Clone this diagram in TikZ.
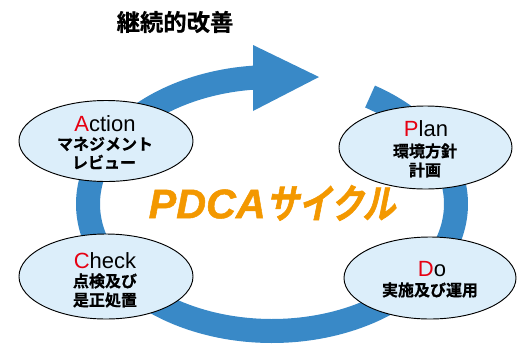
\documentclass[tikz,border=0pt]{standalone}
\usepackage{fontspec}
\setmainfont{Liberation Sans}
\newfontfamily\jpb{Noto Sans CJK JP Bold}[FakeBold=0.6]
\newfontfamily\jpslant{Noto Sans CJK JP Bold}[FakeSlant=0.2,FakeStretch=0.82,FakeBold=1.5]
\newfontfamily\pdcalat{Liberation Sans}[UprightFont={* Bold Italic},FakeBold=1.2]
\usetikzlibrary{shapes.geometric}
\definecolor{ringblue}{RGB}{57,137,199}
\definecolor{ellfill}{RGB}{220,238,250}
\definecolor{accred}{RGB}{230,0,18}
\definecolor{pdcaorange}{RGB}{243,152,0}
\tikzset{
  ring/.style={draw=ringblue,line width=18pt,line cap=butt},
  ell/.style={ellipse,draw=black,line width=0.7pt,fill=ellfill,inner sep=0pt},
  head/.style={inner sep=0pt,font=\fontsize{16.5}{18}\selectfont},
  jplab/.style={inner sep=0pt,font=\jpb\fontsize{12}{14}\selectfont},
}
\begin{document}
\begin{tikzpicture}[x=0.75pt,y=-0.75pt]
\useasboundingbox (0,0) rectangle (526,344);
% ring
\draw[ring] plot[domain=-57.8:264.5,samples=160,smooth] ({272+184*cos(\x)},{204+127*sin(\x)});
\fill[ringblue] (253,45) -- (319,77) -- (253,111) -- cycle;
% title
\node[inner sep=0pt,font=\jpb\fontsize{17.5}{20}\selectfont] (title) at (175,22) {継続的改善};
% ellipses
\node[ell,minimum width=130.5pt,minimum height=60.75pt] (act) at (106,141) {};
\node[ell,minimum width=129.75pt,minimum height=62.25pt] (plan) at (425.5,147.5) {};
\node[ell,minimum width=130.5pt,minimum height=63.75pt] (chk) at (106,276.5) {};
\node[ell,minimum width=129pt,minimum height=61.5pt] (do) at (430,278) {};
% labels
\node[head] (actA) at (105,124) {\textcolor{accred}{A}ction};
\node[jplab] (act1) at (105,144) {マネジメント};
\node[jplab] (act2) at (104,162) {レビュー};
\node[head] (planP) at (426,129) {\textcolor{accred}{P}lan};
\node[jplab] (plan1) at (425,151) {環境方針};
\node[jplab] (plan2) at (425,170) {計画};
\node[head] (chkC) at (105,261) {\textcolor{accred}{C}heck};
\node[jplab] (chk1) at (105,281) {点検及び};
\node[jplab] (chk2) at (105,300) {是正処置};
\node[head] (doD) at (432,269) {\textcolor{accred}{D}o};
\node[jplab] (do1) at (430,290) {実施及び運用};
% centre text
\node[inner sep=0pt,text=pdcaorange] (pdca) at (272,203)
  {{\pdcalat\fontsize{31}{31}\selectfont PDCA}{\jpslant\fontsize{30}{30}\selectfont サイクル}};
\end{tikzpicture}
\end{document}
